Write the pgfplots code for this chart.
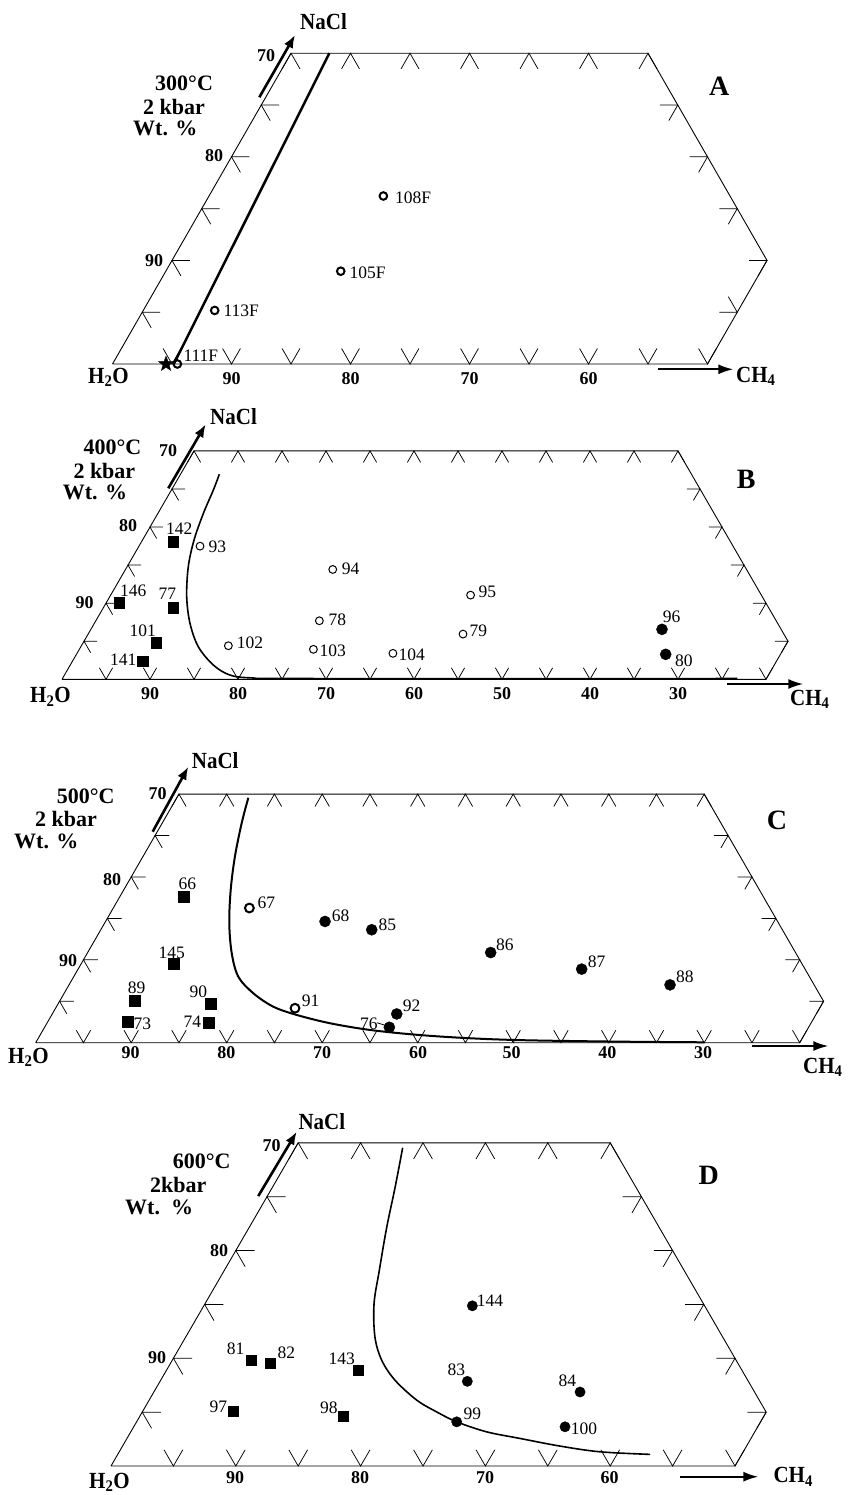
\documentclass[border=0pt]{standalone}
\usepackage{pgfplots}
\usepackage{pgfplotstable}
\pgfplotsset{compat=1.18}
\usepackage{fontspec}
\setmainfont{Liberation Serif}
\usetikzlibrary{arrows.meta}

\pgfdeclareplotmark{fstar}{%
  \pgfpathmoveto{\pgfpointpolar{90}{\pgfplotmarksize}}%
  \pgfpathlineto{\pgfpointpolar{126}{0.42\pgfplotmarksize}}%
  \pgfpathlineto{\pgfpointpolar{162}{\pgfplotmarksize}}%
  \pgfpathlineto{\pgfpointpolar{198}{0.42\pgfplotmarksize}}%
  \pgfpathlineto{\pgfpointpolar{234}{\pgfplotmarksize}}%
  \pgfpathlineto{\pgfpointpolar{270}{0.42\pgfplotmarksize}}%
  \pgfpathlineto{\pgfpointpolar{306}{\pgfplotmarksize}}%
  \pgfpathlineto{\pgfpointpolar{342}{0.42\pgfplotmarksize}}%
  \pgfpathlineto{\pgfpointpolar{18}{\pgfplotmarksize}}%
  \pgfpathlineto{\pgfpointpolar{54}{0.42\pgfplotmarksize}}%
  \pgfpathclose
  \pgfusepathqfillstroke}

\newcommand{\ts}[1]{\scalebox{1}[1.1]{#1}}

\tikzset{
  tk/.style={black, line width=0.75pt},
  edge/.style={black, line width=0.9pt, line join=miter},
  crv/.style={black, smooth, tension=0.55},
  arN/.style={black, line width=2.6pt, -{Latex[length=13pt,width=10pt]}},
  arC/.style={black, line width=2pt, -{Latex[length=15pt,width=10pt]}},
  pl/.style={font=\fontsize{17.5}{18}\selectfont, inner sep=0pt, anchor=west},
  tl/.style={font=\bfseries\fontsize{18}{18}\selectfont, inner sep=0pt},
  ti/.style={font=\bfseries\fontsize{22}{22}\selectfont, inner sep=0pt, anchor=west},
  big/.style={font=\bfseries\fontsize{28}{28}\selectfont, inner sep=0pt, anchor=west},
  cmp/.style={font=\bfseries\fontsize{21}{21}\selectfont, inner sep=0pt, anchor=base west},
}
\pgfplotsset{
  table/tt/.style={x expr=\thisrow{c}+0.5*\thisrow{n}, y expr=0.8660254*\thisrow{n}},
  tern/.style={hide axis, clip=false, anchor=south west, xmin=0, ymin=0, ymax=26, enlargelimits=false},
  sq/.style={only marks, mark=square*},
  fc/.style={only marks, mark=*},
  oc/.style={only marks, mark=o},
}

% tick decorations of the truncated ternary frame (composition units)
\newcommand{\leftticks}{\pgfplotsinvokeforeach{5,10,...,25}{\draw[tk] (axis cs:{0.5*##1+1.5},{0.8660254*##1}) -- (axis cs:{0.5*##1},{0.8660254*##1}) -- (axis cs:{0.5*##1+0.75},{0.8660254*##1-1.299});}}
\newcommand{\bottomticks}[1]{\pgfplotsinvokeforeach{5,10,...,#1}{\draw[tk] (axis cs:{##1-0.75},1.299) -- (axis cs:{##1},0) -- (axis cs:{##1+0.75},1.299);}}
\newcommand{\topticks}[1]{\pgfplotsinvokeforeach{0,5,...,#1}{\draw[tk] (axis cs:{##1+14.25},24.682) -- (axis cs:{##1+15},25.981) -- (axis cs:{##1+15.75},24.682);}}
\newcommand{\rightticks}[2]{\pgfplotsinvokeforeach{#2}{\draw[tk] (axis cs:{#1-0.5*##1-1.5},{0.8660254*##1}) -- (axis cs:{#1-0.5*##1},{0.8660254*##1}) -- (axis cs:{#1-0.5*##1-0.75},{0.8660254*##1-1.299});}}

% ---------- data: c = CH4 wt.%, n = NaCl wt.% ----------
\pgfplotstableread{
c n
0 0
50 0
50 10
30 30
0 30
0 0
}\frameA
\pgfplotstableread{
c n
0 0
80 0
80 5
55 30
0 30
0 0
}\frameB
\pgfplotstableread{
c n
0 0
50 0
50 5
25 30
0 30
0 0
}\frameD

\pgfplotstableread{
c n
14.65 16.22
14.7 8.96
6.0 5.17
5.45 0
}\openA
\pgfplotstableread{
c n
4.5 0
}\starA
\pgfplotstableread{
c n
5.15 0
3.22 30
}\lineA

\pgfplotstableread{
c n
3.62 18.06
1.45 10.05
7.95 9.4
8.28 4.8
7.97 2.4
}\sqB
\pgfplotstableread{
c n
6.94 17.49
23.55 14.43
16.7 4.41
25.4 7.69
26.6 3.94
35.9 3.41
40.9 11.06
42.6 5.94
}\openB
\pgfplotstableread{
c n
64.9 6.56
66.96 3.28
}\fillB
\pgfplotstableread{
c n
4.41 26.94
4.77 24.84
5.17 21.78
5.86 18.28
6.96 14.78
8.75 10.84
10.87 7.35
13.35 4.28
16.25 1.88
18.8 0.56
21.5 0.18
28 0.1
76.7 0.1
}\curveB

\pgfplotstableread{
c n
6.67 17.58
9.65 9.52
7.88 5.04
8.32 2.54
15.98 4.68
16.86 2.42
}\sqC
\pgfplotstableread{
c n
14.25 16.25
25.07 4.16
}\openC
\pgfplotstableread{
c n
22.98 14.63
28.37 13.63
36.07 3.47
36.1 1.86
42.2 10.88
52.73 8.88
62.93 6.98
}\fillC
\pgfplotstableread{
c n
7.49 29.55
8.31 26.53
9.62 22.49
11.19 18.46
13.05 14.44
15.12 10.81
17.22 7.98
19.8 5.97
22.7 4.35
25.66 3.35
29.64 2.35
34.23 1.54
39.5 0.95
45 0.55
51 0.3
61 0.13
70 0.05
}\curveC

\pgfplotstableread{
c n
6.31 9.81
7.95 9.59
15.38 8.88
7.26 5.09
16.3 4.63
}\sqD
\pgfplotstableread{
c n
21.52 14.87
24.62 7.86
25.65 4.1
34.15 6.87
34.56 3.64
}\fillD
\pgfplotstableread{
c n
8.6 29.54
9.84 25.84
11.02 22.14
12.43 18.13
13.55 15.05
15.17 11.96
16.79 9.81
18.78 7.96
21.45 6.11
23.59 5.02
25.65 4.1
28.52 3.17
31.49 2.56
35.05 1.85
38.52 1.32
42.65 1.08
}\curveD

\begin{document}
\begin{tikzpicture}
\useasboundingbox (0,0) rectangle (847pt,-1495pt);

% ================= Panel A =================
\begin{axis}[tern, at={(112.5pt,-364pt)}, x=11.9pt, y=11.96pt, xmax=56]
\addplot[edge] table[tt] {\frameA};
\leftticks
\bottomticks{50}
\topticks{30}
\rightticks{60}{10,15,20,25}
\draw[tk] (axis cs:51,4.330) -- (axis cs:52.5,4.330) -- (axis cs:51.75,5.629);
\addplot[black, line width=2.5pt] table[tt] {\lineA};
\addplot[oc, mark size=3.8pt, mark options={draw=black, line width=2pt}] table[tt] {\openA};
\addplot[only marks, mark=fstar, mark size=8pt, mark options={fill=black, draw=black, line width=0.3pt}] table[tt] {\starA};
\addplot[arN] coordinates {(12.34,22.30) (15.34,27.51)};
\addplot[arC] coordinates {(45.87,-0.443) (52.17,-0.443)};
\end{axis}
\node[cmp] at (300pt,-30pt) {\ts{NaCl}};
\node[ti] at (155pt,-83.5pt) {300°C};
\node[ti] at (143pt,-106.5pt) {2 kbar};
\node[ti] at (133pt,-128.5pt) {Wt. \%};
\node[big] at (709pt,-86.5pt) {A};
\node[tl] at (266pt,-56pt) {70};
\node[tl] at (214pt,-156pt) {80};
\node[tl] at (154pt,-261pt) {90};
\node[tl] at (231.5pt,-378.5pt) {90};
\node[tl] at (350.5pt,-378.5pt) {80};
\node[tl] at (469.5pt,-378.5pt) {70};
\node[tl] at (588.5pt,-378.5pt) {60};
\node[cmp] at (88pt,-383.3pt) {\ts{H\textsubscript{2}O}};
\node[cmp] at (736pt,-382pt) {\ts{CH\textsubscript{4}}};
\node[pl] at (395pt,-197.5pt) {108F};
\node[pl] at (349.3pt,-272.5pt) {105F};
\node[pl] at (223.3pt,-311pt) {113F};
\node[pl] at (183.3pt,-355.8pt) {111F};

% ================= Panel B =================
\begin{axis}[tern, at={(62pt,-679.3pt)}, x=8.8pt, y=8.79pt, xmax=83]
\addplot[edge] table[tt] {\frameB};
\leftticks
\bottomticks{80}
\topticks{55}
\rightticks{85}{5,10,15,20,25}
\addplot[crv, line width=1.6pt] table[tt] {\curveB};
\addplot[sq, mark size=5.3pt, mark options={fill=black, draw=black, line width=0.3pt}] table[tt] {\sqB};
\addplot[oc, mark size=3.9pt, mark options={draw=black, line width=1pt}] table[tt] {\openB};
\addplot[fc, mark size=5.6pt, mark options={fill=black, draw=black, line width=0.3pt}] table[tt] {\fillB};
\addplot[arN] coordinates {(12.08,21.73) (16.33,29.01)};
\addplot[arC] coordinates {(75.53,-0.535) (84.24,-0.535)};
\end{axis}
\node[cmp] at (210pt,-424.5pt) {\ts{NaCl}};
\node[ti] at (83.3pt,-447.5pt) {400°C};
\node[ti] at (73.3pt,-470.8pt) {2 kbar};
\node[ti] at (62.7pt,-492pt) {Wt. \%};
\node[big] at (736.7pt,-479.7pt) {B};
\node[tl] at (168pt,-451pt) {70};
\node[tl] at (128pt,-526pt) {80};
\node[tl] at (84.5pt,-603pt) {90};
\node[tl] at (150pt,-694pt) {90};
\node[tl] at (238pt,-694pt) {80};
\node[tl] at (326pt,-694pt) {70};
\node[tl] at (414pt,-694pt) {60};
\node[tl] at (502pt,-694pt) {50};
\node[tl] at (590pt,-694pt) {40};
\node[tl] at (678pt,-694pt) {30};
\node[cmp] at (30pt,-702.7pt) {\ts{H\textsubscript{2}O}};
\node[cmp] at (790pt,-705pt) {\ts{CH\textsubscript{4}}};
\node[pl] at (166pt,-529pt) {142};
\node[pl] at (208.3pt,-546.7pt) {93};
\node[pl] at (341.7pt,-568.3pt) {94};
\node[pl] at (120pt,-590.8pt) {146};
\node[pl] at (158.3pt,-594.2pt) {77};
\node[pl] at (129.3pt,-630.8pt) {101};
\node[pl] at (110pt,-660pt) {141};
\node[pl] at (236.7pt,-643pt) {102};
\node[pl] at (328.3pt,-620pt) {78};
\node[pl] at (319.3pt,-650.8pt) {103};
\node[pl] at (398.3pt,-655pt) {104};
\node[pl] at (478.3pt,-592.2pt) {95};
\node[pl] at (469.3pt,-630.8pt) {79};
\node[pl] at (662.7pt,-616.3pt) {96};
\node[pl] at (675pt,-660.3pt) {80};

% ================= Panel C =================
\begin{axis}[tern, at={(35.7pt,-1042.7pt)}, x=9.55pt, y=9.57pt, xmax=83]
\addplot[edge] table[tt] {\frameB};
\leftticks
\bottomticks{80}
\topticks{55}
\rightticks{85}{5,10,15,20,25}
\addplot[crv, line width=2pt] table[tt] {\curveC};
\addplot[sq, mark size=5.6pt, mark options={fill=black, draw=black, line width=0.3pt}] table[tt] {\sqC};
\addplot[oc, mark size=4.4pt, mark options={draw=black, line width=2pt}] table[tt] {\openC};
\addplot[fc, mark size=5.6pt, mark options={fill=black, draw=black, line width=0.3pt}] table[tt] {\fillC};
\addplot[arN] coordinates {(12.25,22.05) (15.98,28.84)};
\addplot[arC] coordinates {(74.97,-0.345) (83.0,-0.345)};
\end{axis}
\node[cmp] at (191.7pt,-768.3pt) {\ts{NaCl}};
\node[ti] at (56.7pt,-795.8pt) {500°C};
\node[ti] at (35pt,-819.2pt) {2 kbar};
\node[ti] at (14pt,-841.7pt) {Wt. \%};
\node[big] at (766.7pt,-820.3pt) {C};
\node[tl] at (157.5pt,-794pt) {70};
\node[tl] at (112pt,-880pt) {80};
\node[tl] at (68pt,-961pt) {90};
\node[tl] at (130.5pt,-1052.5pt) {90};
\node[tl] at (226.3pt,-1052.5pt) {80};
\node[tl] at (322pt,-1052.5pt) {70};
\node[tl] at (418pt,-1052.5pt) {60};
\node[tl] at (511.5pt,-1052.5pt) {50};
\node[tl] at (607.3pt,-1052.5pt) {40};
\node[tl] at (703pt,-1052.5pt) {30};
\node[cmp] at (8pt,-1063pt) {\ts{H\textsubscript{2}O}};
\node[cmp] at (803pt,-1073pt) {\ts{CH\textsubscript{4}}};
\node[pl] at (178.3pt,-884.2pt) {66};
\node[pl] at (257.3pt,-903pt) {67};
\node[pl] at (331.7pt,-915.8pt) {68};
\node[pl] at (378.3pt,-925pt) {85};
\node[pl] at (158.3pt,-952.5pt) {145};
\node[pl] at (127.7pt,-987.8pt) {89};
\node[pl] at (133.3pt,-1023.3pt) {73};
\node[pl] at (189.3pt,-991.7pt) {90};
\node[pl] at (183.3pt,-1021.7pt) {74};
\node[pl] at (301.7pt,-1000.8pt) {91};
\node[pl] at (402.7pt,-1005.5pt) {92};
\node[pl] at (360pt,-1023.3pt) {76};
\draw[line width=0.8pt] (377pt,-1022.7pt) -- (386pt,-1025.6pt);
\node[pl] at (496pt,-944.5pt) {86};
\node[pl] at (587.7pt,-961.7pt) {87};
\node[pl] at (676pt,-976.7pt) {88};

% ================= Panel D =================
\begin{axis}[tern, at={(111pt,-1466pt)}, x=12.48pt, y=12.44pt, xmax=53]
\addplot[edge] table[tt] {\frameD};
\leftticks
\bottomticks{50}
\topticks{25}
\rightticks{55}{5,10,15,20,25}
\addplot[crv, line width=1.6pt] table[tt] {\curveD};
\addplot[sq, mark size=5pt, mark options={fill=black, draw=black, line width=0.3pt}] table[tt] {\sqD};
\addplot[fc, mark size=5.2pt, mark options={fill=black, draw=black, line width=0.3pt}] table[tt] {\fillD};
\addplot[arN] coordinates {(11.8,21.7) (14.88,26.87)};
\addplot[arC] coordinates {(45.59,-0.86) (51.87,-0.86)};
\end{axis}
\node[cmp] at (298.3pt,-1129pt) {\ts{NaCl}};
\node[ti] at (172.7pt,-1161.7pt) {600°C};
\node[ti] at (150pt,-1185pt) {2kbar};
\node[ti] at (125pt,-1207.5pt) {Wt.\ \ \%};
\node[big] at (698.3pt,-1175pt) {D};
\node[tl] at (271.5pt,-1146pt) {70};
\node[tl] at (219pt,-1251pt) {80};
\node[tl] at (157pt,-1358pt) {90};
\node[tl] at (235pt,-1477.5pt) {90};
\node[tl] at (360pt,-1477.5pt) {80};
\node[tl] at (485pt,-1477.5pt) {70};
\node[tl] at (609.5pt,-1477.5pt) {60};
\node[cmp] at (89pt,-1488.3pt) {\ts{H\textsubscript{2}O}};
\node[cmp] at (773.3pt,-1482.7pt) {\ts{CH\textsubscript{4}}};
\node[pl] at (226.7pt,-1349.2pt) {81};
\node[pl] at (277.3pt,-1353pt) {82};
\node[pl] at (328.3pt,-1358.3pt) {143};
\node[pl] at (209.3pt,-1407pt) {97};
\node[pl] at (320pt,-1407.5pt) {98};
\node[pl] at (447.3pt,-1369.7pt) {83};
\node[pl] at (463.3pt,-1413.7pt) {99};
\node[pl] at (476.7pt,-1300.8pt) {144};
\node[pl] at (558.3pt,-1380.8pt) {84};
\node[pl] at (570.7pt,-1428.3pt) {100};
\end{tikzpicture}
\end{document}
